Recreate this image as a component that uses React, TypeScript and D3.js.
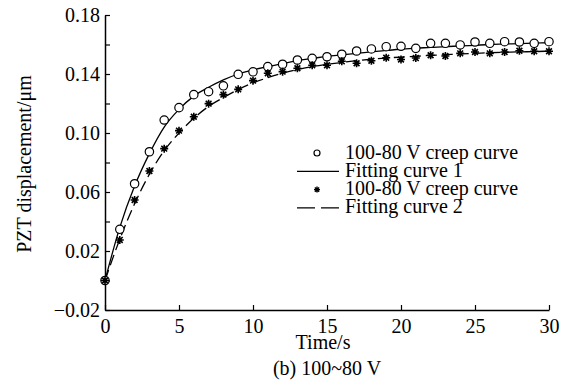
import * as d3 from 'd3';
import { useEffect, useRef } from 'react';

// time in seconds
const times = d3.range(0, 31);

// 100-80 V creep curve (circles)
const creep1 = [
  0, 0.0347, 0.0656, 0.0873, 0.1088, 0.1172, 0.126, 0.128, 0.132, 0.1398, 0.1415,
  0.145, 0.1466, 0.1495, 0.1506, 0.1517, 0.1534, 0.1556, 0.157, 0.1585, 0.1588,
  0.1574, 0.1608, 0.1608, 0.1597, 0.1617, 0.1608, 0.1619, 0.1617, 0.1608, 0.1619,
];

// 100-80 V creep curve (stars)
const creep2 = [
  0, 0.0275, 0.0546, 0.0742, 0.0894, 0.1016, 0.111, 0.1199, 0.126, 0.1296, 0.1355,
  0.1405, 0.1416, 0.1439, 0.1459, 0.1459, 0.1486, 0.1473, 0.149, 0.151, 0.1498,
  0.1508, 0.1527, 0.1522, 0.154, 0.1549, 0.154, 0.1549, 0.1558, 0.1554, 0.1554,
];

// fitting curves read at each second
const fit1 = [
  0, 0.036, 0.064, 0.086, 0.104, 0.116, 0.125, 0.131, 0.136, 0.14, 0.1428,
  0.145, 0.147, 0.149, 0.1505, 0.152, 0.153, 0.154, 0.155, 0.156, 0.1568,
  0.1575, 0.158, 0.1586, 0.159, 0.1595, 0.16, 0.1603, 0.1606, 0.1609, 0.1612,
];
const fit2 = [
  0, 0.028, 0.052, 0.072, 0.088, 0.1, 0.11, 0.118, 0.124, 0.1295, 0.134,
  0.1375, 0.1405, 0.143, 0.145, 0.1465, 0.1478, 0.149, 0.15, 0.1508, 0.1515,
  0.152, 0.1526, 0.1531, 0.1536, 0.154, 0.1544, 0.1547, 0.155, 0.1552, 0.1555,
];

const xTicks = [0, 5, 10, 15, 20, 25, 30];
const yTicks = [-0.02, 0, 0.02, 0.04, 0.06, 0.08, 0.1, 0.12, 0.14, 0.16, 0.18];
const yLabels = [-0.02, 0.02, 0.06, 0.1, 0.14, 0.18];

const legendItems = [
  { label: '100-80 V creep curve', kind: 'circle' },
  { label: 'Fitting curve 1', kind: 'solid' },
  { label: '100-80 V creep curve', kind: 'star' },
  { label: 'Fitting curve 2', kind: 'dash' },
];

const width = 565;
const height = 382;
const marginLeft = 105;
const marginRight = 16;
const marginTop = 15;
const marginBottom = 72;

const font = '"Liberation Serif", "Times New Roman", serif';

function starPath(cx: number, cy: number, r: number) {
  const d = r * 0.72;
  return (
    `M${cx - r},${cy}L${cx + r},${cy}` +
    `M${cx},${cy - r}L${cx},${cy + r}` +
    `M${cx - d},${cy - d}L${cx + d},${cy + d}` +
    `M${cx - d},${cy + d}L${cx + d},${cy - d}`
  );
}

export default function App() {
  const gx = useRef<SVGGElement>(null);
  const gy = useRef<SVGGElement>(null);

  const x = d3.scaleLinear([0, 30], [marginLeft, width - marginRight]);
  const y = d3.scaleLinear([-0.02, 0.18], [height - marginBottom, marginTop]);

  const line = d3
    .line<number>((d, i) => x(times[i]), y)
    .curve(d3.curveMonotoneX);

  useEffect(() => {
    const ax = d3
      .select(gx.current)
      .call(d3.axisBottom(x).tickValues(xTicks).tickSizeInner(-5).tickSizeOuter(0).tickPadding(9).tickFormat(d3.format('d')));
    ax.select('.domain').attr('stroke-width', 1.5);
    ax.selectAll('.tick line').attr('stroke-width', 1.2);
    ax.selectAll('text').attr('font-family', font).attr('font-size', 20).attr('fill', '#000');
  }, []);

  useEffect(() => {
    const ay = d3
      .select(gy.current)
      .call(
        d3
          .axisLeft(y)
          .tickValues(yTicks)
          .tickSizeInner(-5)
          .tickSizeOuter(0)
          .tickPadding(5)
          .tickFormat((d) => (yLabels.some((v) => Math.abs(v - +d) < 1e-9) ? d3.format('.2f')(+d) : ''))
      );
    ay.select('.domain').attr('stroke-width', 1.5);
    ay.selectAll('.tick line').attr('stroke-width', 1.2);
    ay.selectAll('text').attr('font-family', font).attr('font-size', 20).attr('fill', '#000');
  }, []);

  const lx = 317;
  const ly0 = 153;
  const lstep = 18.3;

  return (
    <svg width={width} height={height} style={{ position: 'absolute', left: 0, top: 0, background: '#fff' }}>
      <g ref={gx} transform={`translate(0,${height - marginBottom})`} />
      <g ref={gy} transform={`translate(${marginLeft},0)`} />

      <path d={line(fit1) ?? ''} fill="none" stroke="#000" strokeWidth={1.3} />
      <path d={line(fit2) ?? ''} fill="none" stroke="#000" strokeWidth={1.3} strokeDasharray="11,5" />

      <g fill="#fff" stroke="#000" strokeWidth={1.2}>
        {creep1.map((d, i) => (
          <circle key={i} cx={x(times[i])} cy={y(d)} r={4.2} />
        ))}
      </g>
      <g stroke="#000" strokeWidth={1.6}>
        {creep2.map((d, i) => (
          <path key={i} d={starPath(x(times[i]), y(d), 4)} />
        ))}
      </g>

      <text
        transform={`translate(31,${164}) rotate(-90)`}
        textAnchor="middle"
        fontFamily={font}
        fontSize={20}
      >
        PZT displacement/μm
      </text>
      <text x={323} y={349} textAnchor="middle" fontFamily={font} fontSize={20}>
        Time/s
      </text>
      <text x={327} y={375} textAnchor="middle" fontFamily={font} fontSize={20}>
        (b) 100~80 V
      </text>

      <g fontFamily={font} fontSize={20}>
        {legendItems.map((item, i) => {
          const cy = ly0 + i * lstep;
          return (
            <g key={i}>
              {item.kind === 'circle' && <circle cx={lx} cy={cy} r={3} fill="#fff" stroke="#000" strokeWidth={1.2} />}
              {item.kind === 'star' && <path d={starPath(lx, cy, 3)} stroke="#000" strokeWidth={1.4} />}
              {item.kind === 'solid' && <line x1={297} x2={339} y1={cy} y2={cy} stroke="#000" strokeWidth={1.3} />}
              {item.kind === 'dash' && (
                <line x1={297} x2={339} y1={cy} y2={cy} stroke="#000" strokeWidth={1.3} strokeDasharray="18,6" />
              )}
              <text x={345} y={cy + 5.5}>
                {item.label}
              </text>
            </g>
          );
        })}
      </g>
    </svg>
  );
}
